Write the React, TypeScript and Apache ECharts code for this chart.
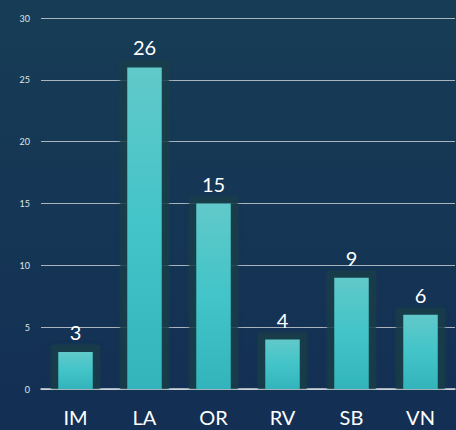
import React, { useEffect, useRef } from "react";
import * as echarts from "echarts";

const categories = ["IM", "LA", "OR", "RV", "SB", "VN"];
const values = [3, 26, 15, 4, 9, 6];
const yTicks = [0, 5, 10, 15, 20, 25, 30];

export default function App() {
  const ref = useRef<HTMLDivElement>(null);
  useEffect(() => {
    document.body.style.margin = "0";
    const chart = echarts.init(ref.current!, null, { renderer: "svg" });
    chart.setOption({
      animation: false,
      backgroundColor: {
        type: "linear", x: 0, y: 0, x2: 0, y2: 1,
        colorStops: [
          { offset: 0, color: "#173d56" },
          { offset: 1, color: "#132f54" },
        ],
      },
      grid: { left: 41, right: 1, top: 18, bottom: 41 },
      xAxis: {
        type: "category",
        data: categories,
        axisLine: { show: true, lineStyle: { color: "#d8dde2", width: 1.5 } },
        axisTick: { show: false },
        axisLabel: { color: "#ffffff", fontSize: 20, fontFamily: "Lato", margin: 18 },
      },
      yAxis: {
        type: "value",
        min: yTicks[0],
        max: yTicks[yTicks.length - 1],
        interval: 5,
        axisLine: { show: false },
        axisTick: { show: false },
        axisLabel: { color: "#dfe5ea", fontSize: 9, fontFamily: "Lato", margin: 11 },
        splitLine: { lineStyle: { color: "#a9b4bd", width: 1 } },
      },
      series: [
        {
          type: "custom",
          silent: true,
          z: 1,
          data: values.map((v, i) => [i, v]),
          renderItem: (params: any, api: any) => {
            const top = api.coord([api.value(0), api.value(1)]);
            const base = api.coord([api.value(0), 0]);
            const bw = api.size([1, 0])[0] * 0.5;
            const pad = 7;
            return {
              type: "rect",
              shape: {
                x: top[0] - bw / 2 - pad,
                y: top[1] - pad,
                width: bw + pad * 2,
                height: base[1] - top[1] + pad,
              },
              style: {
                fill: "rgba(26,62,72,0.75)",
                shadowBlur: 5,
                shadowColor: "rgba(26,62,72,0.7)",
              },
            };
          },
        },
        {
          type: "bar",
          data: values,
          barWidth: "50%",
          z: 3,
          itemStyle: {
            color: {
              type: "linear", x: 0, y: 0, x2: 0, y2: 1,
              colorStops: [
                { offset: 0, color: "#61c9ca" },
                { offset: 0.5, color: "#42c4c8" },
                { offset: 1, color: "#33b4bc" },
              ],
            },
          },
          label: {
            show: true,
            position: "top",
            distance: 10,
            color: "#ffffff",
            fontSize: 20,
            fontFamily: "Lato",
          },
        },
      ],
    });
    return () => chart.dispose();
  }, []);
  return <div ref={ref} style={{ width: 456, height: 430 }} />;
}
